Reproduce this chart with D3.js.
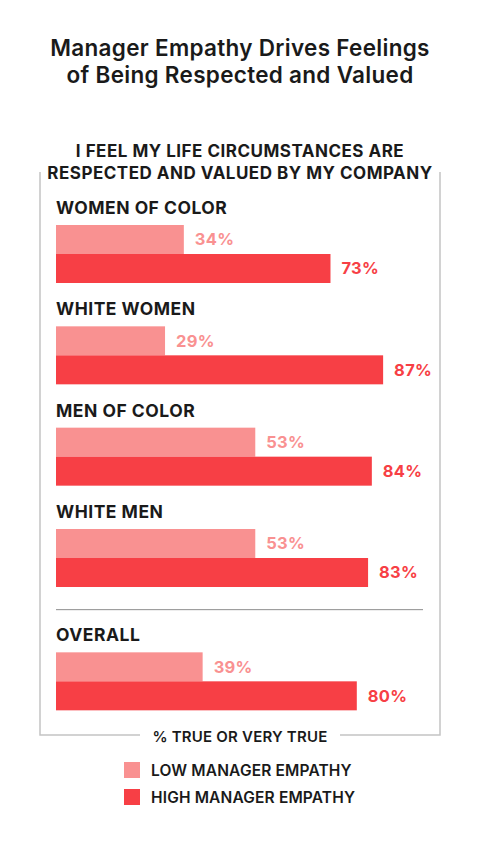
<!DOCTYPE html>
<html>
<head>
<meta charset="utf-8">
<script src="https://cdn.jsdelivr.net/npm/d3@7"></script>
<style>
  body { margin: 0; background: #fff; }
  svg { display: block; font-family: Inter, "Open Sans", sans-serif; }
</style>
</head>
<body>
<svg id="chart"></svg>
<script>
// data
const groups = ["WOMEN OF COLOR", "WHITE WOMEN", "MEN OF COLOR", "WHITE MEN", "OVERALL"]
const lowEmpathy = [34, 29, 53, 53, 39]
const highEmpathy = [73, 87, 84, 83, 80]
const seriesNames = ["LOW MANAGER EMPATHY", "HIGH MANAGER EMPATHY"]
const titleLines = ["Manager Empathy Drives Feelings", "of Being Respected and Valued"]
const subtitleLines = ["I FEEL MY LIFE CIRCUMSTANCES ARE", "RESPECTED AND VALUED BY MY COMPANY"]
const axisNote = "% TRUE OR VERY TRUE"

const w = 480
const h = 843
const lowColor = "#f99191"
const highColor = "#f73f45"
const ink = "#1a1a1a"

const svg = d3.select("#chart")
    .attr("width", w)
    .attr("height", h)

// title
svg.append("g")
    .selectAll("text")
    .data(titleLines)
    .join("text")
    .attr("x", w / 2)
    .attr("y", (d, i) => 56 + i * 27)
    .attr("text-anchor", "middle")
    .attr("fill", ink)
    .attr("font-size", 22.5)
    .attr("font-weight", 600)
    .attr("letter-spacing", 0.3)
    .text(d => d)

// subtitle
svg.append("g")
    .selectAll("text")
    .data(subtitleLines)
    .join("text")
    .attr("x", w / 2)
    .attr("y", (d, i) => 157 + i * 21.5)
    .attr("text-anchor", "middle")
    .attr("fill", ink)
    .attr("font-size", 17)
    .attr("font-weight", 700)
    .attr("letter-spacing", 0.5)
    .text(d => d)

// frame round the bars, broken by the note at the bottom
const frame = { left: 40, right: 440, top: 172, bottom: 735 }
const frameGroup = svg.append("g")
    .attr("stroke", "#c4c4c4")
    .attr("stroke-width", 1.5)
    .attr("fill", "none")
frameGroup.append("path")
    .attr("d", `M${frame.left + 100},${frame.bottom}H${frame.left}V${frame.top}`)
frameGroup.append("path")
    .attr("d", `M${frame.right - 100},${frame.bottom}H${frame.right}V${frame.top}`)

svg.append("text")
    .attr("x", w / 2)
    .attr("y", 742)
    .attr("text-anchor", "middle")
    .attr("fill", ink)
    .attr("font-size", 15)
    .attr("font-weight", 600)
    .attr("letter-spacing", 0.2)
    .text(axisNote)

// scales
const xScale = d3.scaleLinear()
    .domain([0, 100])
    .range([56, 432])

const sepGap = 22
const yScale = d3.scaleLinear()
    .domain([0, 3])
    .range([225, 529])
const groupTop = i => yScale(i) + (i === groups.length - 1 ? sepGap : 0)

const inner = d3.scaleBand()
    .domain(["low", "high"])
    .range([0, 58])

const rows = groups.map((g, i) => ({
    name: g,
    i: i,
    bars: [
        { key: "low", value: lowEmpathy[i], color: lowColor },
        { key: "high", value: highEmpathy[i], color: highColor }
    ]
}))

// separator before overall
const sepY = (groupTop(3) + inner.range()[1] + groupTop(4) - 22) / 2 + 1
svg.append("line")
    .attr("x1", 56)
    .attr("x2", 423)
    .attr("y1", sepY)
    .attr("y2", sepY)
    .attr("stroke", "#8c8c8c")
    .attr("stroke-width", 1)

const rowG = svg.append("g")
    .selectAll("g")
    .data(rows)
    .join("g")
    .attr("transform", d => "translate(0," + groupTop(d.i) + ")")

rowG.append("text")
    .attr("x", xScale(0))
    .attr("y", -11)
    .attr("fill", ink)
    .attr("font-size", 17.5)
    .attr("font-weight", 700)
    .attr("letter-spacing", 0.5)
    .text(d => d.name)

rowG.selectAll("rect")
    .data(d => d.bars)
    .join("rect")
    .attr("x", xScale(0))
    .attr("y", d => inner(d.key))
    .attr("width", d => xScale(d.value) - xScale(0))
    .attr("height", inner.bandwidth())
    .attr("fill", d => d.color)

rowG.selectAll("text.value")
    .data(d => d.bars)
    .join("text")
    .attr("class", "value")
    .attr("x", d => xScale(d.value) + 11)
    .attr("y", d => inner(d.key) + inner.bandwidth() / 2)
    .attr("dy", "0.36em")
    .attr("fill", d => d.color)
    .attr("font-size", 16.5)
    .attr("font-weight", 700)
    .attr("letter-spacing", 0.3)
    .text(d => d.value + "%")

// legend
const legend = svg.append("g")
    .selectAll("g")
    .data(seriesNames)
    .join("g")
    .attr("transform", (d, i) => "translate(124," + (762 + i * 27) + ")")

legend.append("rect")
    .attr("width", 16)
    .attr("height", 16)
    .attr("fill", (d, i) => i === 0 ? lowColor : highColor)

legend.append("text")
    .attr("x", 27)
    .attr("y", 8)
    .attr("dy", "0.36em")
    .attr("fill", ink)
    .attr("font-size", 15.5)
    .attr("font-weight", 600)
    .attr("letter-spacing", 0.15)
    .text(d => d)
</script>
</body>
</html>
